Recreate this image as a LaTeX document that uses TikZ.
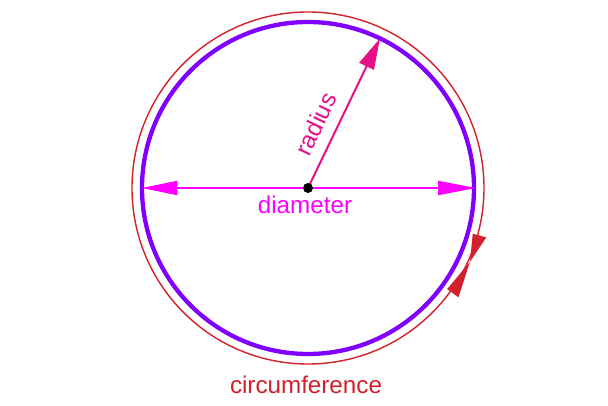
\documentclass[tikz,border=0pt]{standalone}
\usepackage{fontspec}
\setmainfont{Liberation Sans}
\usetikzlibrary{arrows.meta}
\definecolor{circpurple}{RGB}{127,0,255}
\definecolor{circred}{RGB}{210,32,44}
\definecolor{diamag}{RGB}{255,0,255}
\definecolor{radpink}{RGB}{232,16,138}
\tikzset{
  lbl/.style={font=\fontsize{24.2}{28}\selectfont, inner sep=0pt},
  redtri/.style={fill=circred, draw=none}
}
\begin{document}
\begin{tikzpicture}[x=1pt,y=1pt]
\useasboundingbox (-308,-218) rectangle (300,188);
\coordinate (c) at (0,0);
% outer red circle
\draw[circred, line width=1.4pt] (c) circle[radius=176];
% purple circle
\draw[circpurple, line width=4.3pt] (c) circle[radius=166];
% direction bowtie on red circle
\fill[redtri] ([shift={(-24.5:178)}]c) -- ([shift={(-15.5:171)}]c) -- ([shift={(-15.5:185)}]c) -- cycle;
\fill[redtri] ([shift={(-24.5:178)}]c) -- ([shift={(-36:172)}]c) -- ([shift={(-36:186)}]c) -- cycle;
% diameter
\coordinate (dl) at (-166.5,0);
\coordinate (dr) at (168,0);
\draw[draw=diamag, fill=diamag, line width=2pt, {Triangle[length=36pt,width=14pt]}-{Triangle[length=38pt,width=14pt]}] (dl) -- (dr);
% radius
\coordinate (rt) at (64.3:166);
\draw[radpink, line width=2pt, -{Triangle[length=31pt,width=16pt]}] (c) -- (rt);
% centre dot
\fill[black] (c) circle[radius=5];
% labels
\node[lbl, text=diamag, anchor=base] (dia) at (-3,-25.2) {diameter};
\node[lbl, text=radpink, rotate=64.3] (rad) at (7.7,64) {radius};
\node[lbl, text=circred, anchor=base] (circ) at (-2,-206) {circumference};
\end{tikzpicture}
\end{document}
